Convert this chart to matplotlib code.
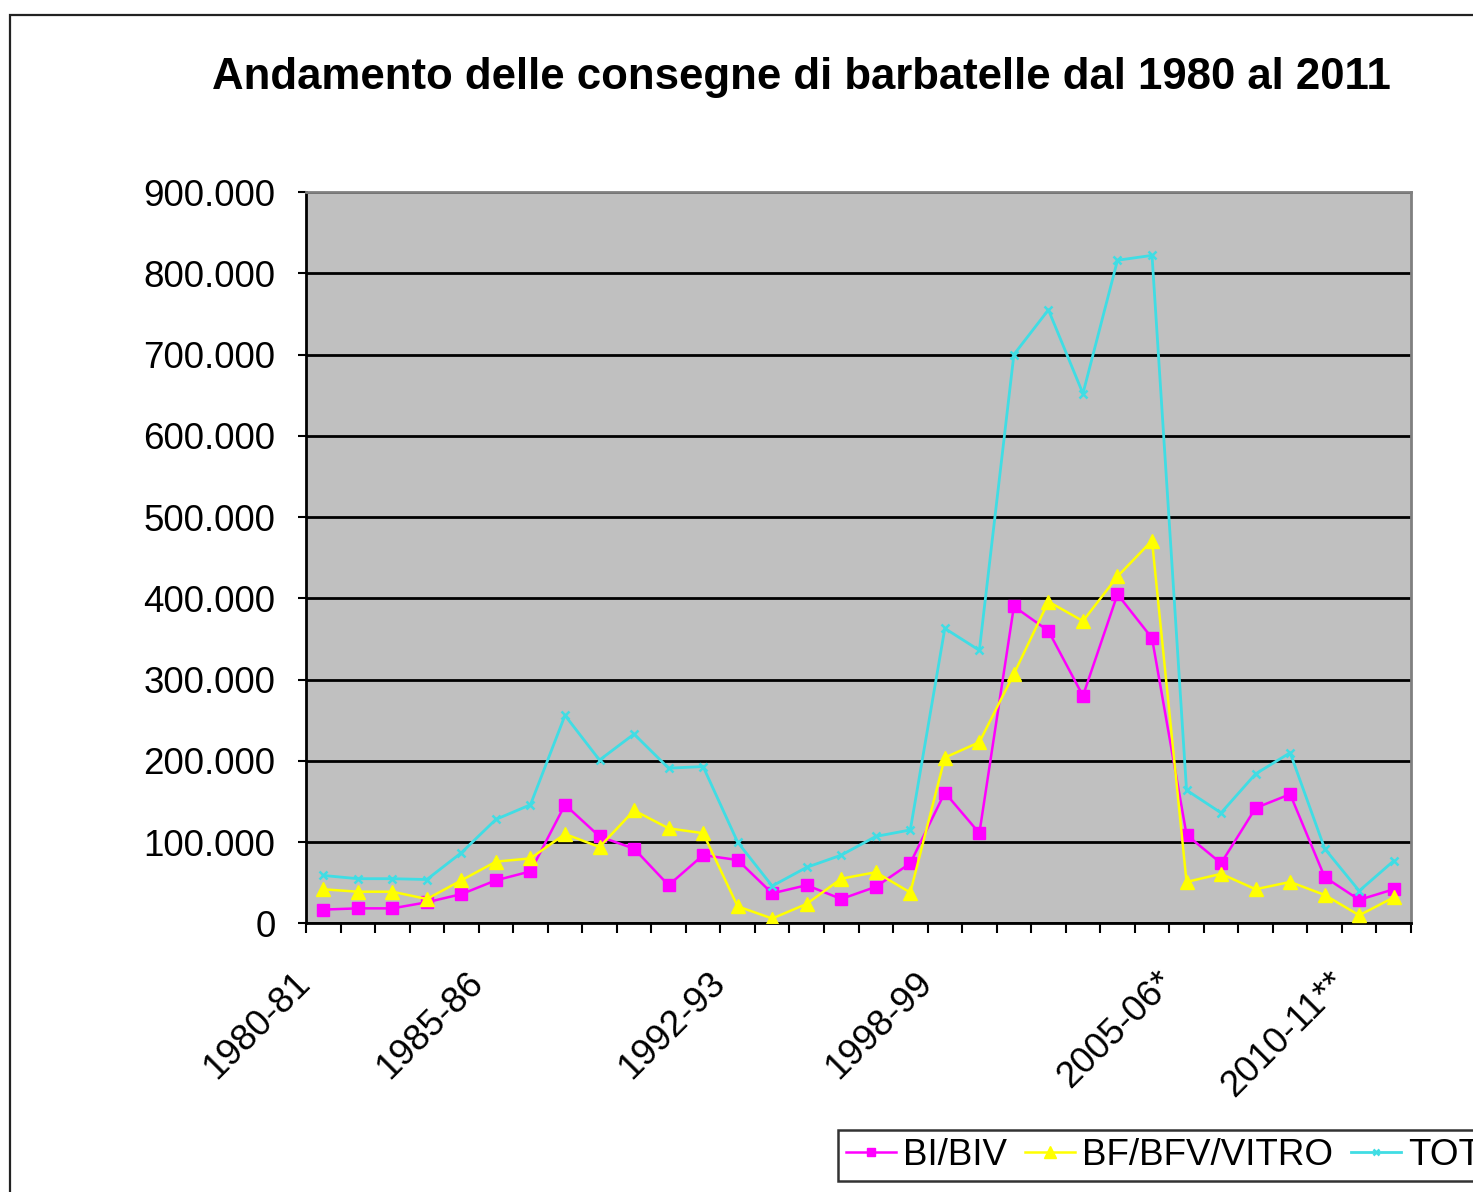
import numpy as np
import matplotlib
matplotlib.use("Agg")
import matplotlib.pyplot as plt
from matplotlib.ticker import FuncFormatter, FixedLocator
from matplotlib.transforms import ScaledTranslation
from matplotlib.patches import Rectangle

plt.rcParams['font.family'] = ['Liberation Sans', 'DejaVu Sans']

# seasons 1980-81 ... 2011-12
seasons = ['1980-81', '1981-82', '1982-83', '1983-84', '1984-85', '1985-86',
           '1986-87', '1987-88', '1988-89', '1989-90', '1990-91', '1991-92',
           '1992-93', '1993-94', '1994-95', '1995-96', '1996-97', '1997-98',
           '1998-99', '1999-00', '2000-01', '2001-02', '2002-03', '2003-04',
           '2004-05', '2005-06*', '2006-07', '2007-08', '2008-09', '2009-10',
           '2010-11**', '2011-12']
shown_labels = ['1980-81', '1985-86', '1992-93', '1998-99', '2005-06*', '2010-11**']

# values in thousands of plants
bi_biv = [17, 18.5, 18.5, 26, 36, 53, 64, 146, 107, 92, 47, 84, 78, 37, 47, 30,
          45, 74, 161, 111, 390, 360, 280, 405, 351, 109, 74, 142, 159, 57, 29, 42]
bf_bfv_vitro = [42, 39, 39, 30, 53, 76, 80, 110, 94, 139, 117, 111, 21, 6, 24, 55,
                63, 38, 204, 223, 307, 396, 372, 427, 471, 51, 61, 42, 51, 35, 10, 32]
tot = [59, 55, 55, 54, 87, 128, 146, 256, 201, 233, 191, 193, 100, 46, 69, 84,
       107, 115, 363, 336, 700, 755, 652, 816, 822, 164, 136, 184, 210, 92, 40, 77]

W, H = 1473, 1192
fig = plt.figure(figsize=(W / 100, H / 100), dpi=100)
fig.patch.set_facecolor('white')

# outer chart frame (cut at right/bottom like the screenshot)
fig.patches.append(Rectangle((10 / W, -0.2), 2.0, 1 - 15 / H + 0.2, transform=fig.transFigure,
                             fill=False, edgecolor='#222222', linewidth=1.6))

ax = fig.add_axes([306 / W, (H - 923.4) / H, (1411 - 306) / W, (923.4 - 192) / H])
ax.set_facecolor('#C0C0C0')

x = np.arange(len(seasons))
k = 1000
ax.plot(x, np.array(bi_biv) * k, color='#FF00FF', lw=1.8, marker='s', ms=8,
        label='BI/BIV', zorder=3)
ax.plot(x, np.array(bf_bfv_vitro) * k, color='#FFFF00', lw=1.8, marker='^', ms=10,
        label='BF/BFV/VITRO', zorder=3)
ax.plot(x, np.array(tot) * k, color='#40DDE4', lw=2.0, marker='x', ms=6, mew=1.8,
        label='TOT', zorder=3)

ax.set_xlim(-0.5, len(seasons) - 0.5)
ax.set_ylim(0, 900000)
ax.set_yticks(np.arange(0, 900001, 100000))
ax.yaxis.set_major_formatter(FuncFormatter(lambda v, p: f"{int(v):,}".replace(',', '.')))
ax.grid(axis='y', color='black', lw=2, zorder=1)
ax.set_axisbelow(True)

for s in ['top', 'right']:
    ax.spines[s].set_color('#808080')
    ax.spines[s].set_linewidth(2)
for s in ['left', 'bottom']:
    ax.spines[s].set_color('black')
    ax.spines[s].set_linewidth(2)

ax.tick_params(axis='y', length=6, width=1.5, pad=16, labelsize=26.5, direction='out')

pos = [seasons.index(l) for l in shown_labels]
ax.xaxis.set_major_locator(FixedLocator(pos))
ax.set_xticklabels(shown_labels, rotation=45, ha='right', va='center',
                   rotation_mode='anchor', fontsize=26.5)
ax.xaxis.set_minor_locator(FixedLocator(np.arange(-0.5, len(seasons), 1)))
ax.tick_params(axis='x', which='major', length=0, pad=39)
ax.tick_params(axis='x', which='minor', length=7.5, width=1.5, direction='out')
shift = ScaledTranslation(-0.18, 0, fig.dpi_scale_trans)
for lab in ax.get_xticklabels():
    lab.set_transform(lab.get_transform() + shift)

fig.text(801 / W, 1 - 89 / H, 'Andamento delle consegne di barbatelle dal 1980 al 2011',
         ha='center', va='baseline', fontsize=31.5, fontweight='bold')

leg = fig.legend(loc='upper left', bbox_to_anchor=(838 / W, 1 - 1130 / H), ncol=3,
                 fontsize=26.5, frameon=True, fancybox=False, borderaxespad=0,
                 handlelength=1.36, handletextpad=0.18, columnspacing=0.5,
                 borderpad=0.22, markerscale=0.8)
leg.get_frame().set_edgecolor('black')
leg.get_frame().set_linewidth(1.8)

plt.savefig('out.png', dpi=100)
